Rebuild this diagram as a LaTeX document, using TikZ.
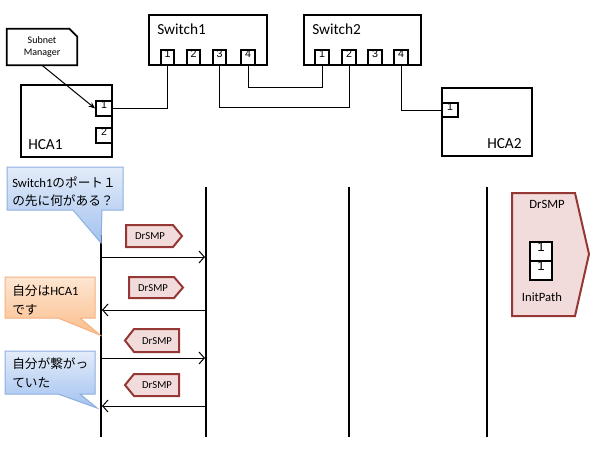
\documentclass[tikz,border=0pt]{standalone}
\usepackage{fontspec}
\setmainfont{Carlito}
\newfontfamily\jp{Noto Sans CJK JP}
\newfontfamily\arialf{Liberation Sans}
\usetikzlibrary{fit,arrows.meta}
\definecolor{tagfill}{HTML}{F2DCDB}
\definecolor{tagdraw}{HTML}{953735}
\definecolor{bluetop}{HTML}{E3ECF9}
\definecolor{bluebot}{HTML}{A3C2F0}
\definecolor{blueline}{HTML}{8DB0DE}
\definecolor{orangetop}{HTML}{FDE6D2}
\definecolor{orangebot}{HTML}{FBBE8C}
\definecolor{orangeline}{HTML}{F6B07E}
\begin{document}
\begin{tikzpicture}[x=0.75pt,y=-0.75pt,
  box/.style={draw, line width=1.5pt, inner sep=0pt, fill=white},
  port/.style={draw, line width=1.3pt, inner sep=0pt, fill=white, font=\arialf\fontsize{8}{9}\selectfont},
  bigport/.style={draw, line width=1.3pt, inner sep=0pt, fill=white, font=\arialf\fontsize{10}{11}\selectfont},
  wire/.style={line width=0.75pt},
  life/.style={line width=1.5pt},
  msg/.style={line width=0.75pt, -{Straight Barb[length=4pt,width=9pt]}},
  tag/.style={fill=tagfill, draw=tagdraw, line width=1.5pt, line join=miter},
  tagtext/.style={font=\fontsize{8}{9}\selectfont},
  lbl/.style={font=\fontsize{11.5}{13}\selectfont, anchor=base west, inner sep=0pt},
  bluecall/.style={top color=bluetop, bottom color=bluebot, draw=blueline, line width=0.75pt},
  orangecall/.style={top color=orangetop, bottom color=orangebot, draw=orangeline, line width=0.75pt},
  calltext/.style={anchor=north west, inner sep=0pt, align=left, font=\fontsize{9.5}{14}\selectfont}
]
\useasboundingbox (0,0) rectangle (603,453);

% ---------- Switch1 ----------
\node[box, fit={(149,15) (267,65)}] (sw1) {};
\node[lbl] (sw1t) at (157,35) {Switch1};
\node[port, fit={(161,50) (174,65)}] (s1p1) {1};
\node[port, fit={(187,50) (200,65)}] (s1p2) {2};
\node[port, fit={(213,50) (226,65)}] (s1p3) {3};
\node[port, fit={(241,50) (255,65)}] (s1p4) {4};

% ---------- Switch2 ----------
\node[box, fit={(304,15) (421,65)}] (sw2) {};
\node[lbl] (sw2t) at (312,35) {Switch2};
\node[port, fit={(315,50) (329,65)}] (s2p1) {1};
\node[port, fit={(342,50) (356,65)}] (s2p2) {2};
\node[port, fit={(368,50) (382,65)}] (s2p3) {3};
\node[port, fit={(394,50) (408,65)}] (s2p4) {4};

% ---------- HCA1 ----------
\node[box, fit={(21,85) (112,157)}] (hca1) {};
\node[lbl] (hca1t) at (28,149) {HCA1};
\node[port, fit={(96,101) (112,116)}] (h1p1) {1};
\node[port, fit={(96,128) (112,143)}] (h1p2) {2};

% ---------- HCA2 ----------
\node[box, fit={(442,88) (532,156)}] (hca2) {};
\node[lbl] (hca2t) at (487,148) {HCA2};
\node[port, fit={(442,103) (458,117)}] (h2p1) {1};

% ---------- Subnet Manager ----------
\node[inner sep=0pt, fit={(7,29) (77,65)}] (sm) {};
\draw[line width=1.3pt, fill=white] (sm.north west) -- ([xshift=-6pt]sm.north east) -- ([yshift=-6pt]sm.north east) -- (sm.south east) -- (sm.south west) -- cycle;
\node[align=center, font=\fontsize{7.5}{9}\selectfont] (smt) at (sm.center) {Subnet\\Manager};
\draw[wire, -{Stealth[length=5pt,width=4pt]}] (sm.south) -- (h1p1.west);

% ---------- cables ----------
\draw[wire] (h1p1.east) -| (s1p1.south);
\draw[wire] (s1p3.south) -- ++(0,42) coordinate (c3) -| (s2p2.south);
\draw[wire] (s1p4.south) -- ++(0,22) coordinate (c4) -| (s2p1.south);
\draw[wire] (s2p4.south) |- (h2p1.west);

% ---------- lifelines ----------
\coordinate (l1t) at (101,187); \coordinate (l1b) at (101,437);
\coordinate (l2t) at (206,187); \coordinate (l2b) at (206,437);
\coordinate (l3t) at (349,187); \coordinate (l3b) at (349,437);
\coordinate (l4t) at (487,187); \coordinate (l4b) at (487,437);
\draw[life] (l1t) -- (l1b);
\draw[life] (l2t) -- (l2b);
\draw[life] (l3t) -- (l3b);
\draw[life] (l4t) -- (l4b);

% ---------- messages ----------
\coordinate (m1a) at (101,257); \coordinate (m1b) at (205,257);
\coordinate (m2a) at (206,310); \coordinate (m2b) at (102,310);
\coordinate (m3a) at (101,358); \coordinate (m3b) at (205,358);
\coordinate (m4a) at (206,406); \coordinate (m4b) at (102,406);
\draw[msg] (m1a) -- (m1b);
\draw[msg] (m2a) -- (m2b);
\draw[msg] (m3a) -- (m3b);
\draw[msg] (m4a) -- (m4b);

% ---------- DrSMP tags ----------
\draw[tag] (126,225) -- (173,225) -- (182,236) -- (173,247) -- (126,247) -- cycle;
\node[tagtext] (tg1) at (150,236) {DrSMP};
\draw[tag] (129,277) -- (174,277) -- (183,287.5) -- (174,298) -- (129,298) -- cycle;
\node[tagtext] (tg2) at (153,288) {DrSMP};
\draw[tag] (125,340.5) -- (134,329) -- (179,329) -- (179,352) -- (134,352) -- cycle;
\node[tagtext] (tg3) at (157,341) {DrSMP};
\draw[tag] (125,385) -- (134,374) -- (179,374) -- (179,396) -- (134,396) -- cycle;
\node[tagtext] (tg4) at (157,385) {DrSMP};

% ---------- big DrSMP ----------
\draw[tag] (512,193) -- (575,193) -- (589,254) -- (575,316) -- (512,316) -- cycle;
\node[font=\fontsize{9.5}{11}\selectfont] (bigt) at (547,204) {DrSMP};
\node[bigport, fit={(530,242) (552,261)}] (ip1) {1};
\node[bigport, fit={(530,261) (552,280)}] (ip2) {1};
\node[font=\fontsize{9.5}{11}\selectfont] (ipt) at (542,297) {InitPath};

% ---------- callouts ----------
\path[bluecall] (7,167) -- (123,167) -- (123,210) -- (102,210) -- (101,243) -- (73,210) -- (7,210) -- cycle;
\node[calltext] (q1) at (12,176) {Switch1{\jp のポート１}\\{\jp の先に何がある？}};

\path[orangecall] (5,277) -- (95,277) -- (95,318) -- (80,318) -- (100,335) -- (58,318) -- (5,318) -- cycle;
\node[calltext] (a1) at (12,285) {{\jp 自分は}HCA1\\{\jp です}};

\path[bluecall] (5,351) -- (95,351) -- (95,394) -- (80,394) -- (97,408) -- (58,394) -- (5,394) -- cycle;
\node[calltext] (a2) at (12,358) {{\jp 自分が繋がっ}\\{\jp ていた}};
\end{tikzpicture}
\end{document}
